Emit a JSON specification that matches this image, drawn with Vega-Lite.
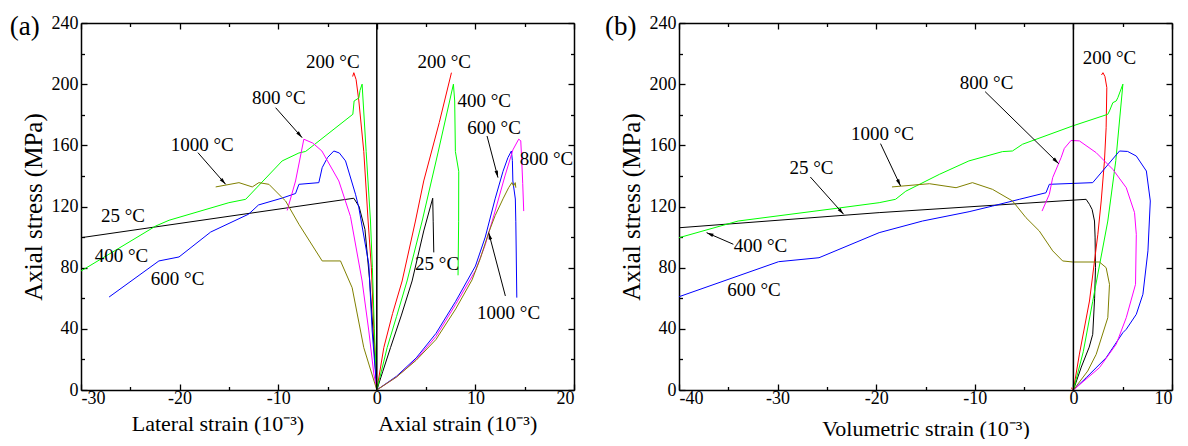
{
  "$schema": "https://vega.github.io/schema/vega-lite/v6.json",
  "background": "white",
  "padding": {"left": 9, "top": 12, "right": 5, "bottom": 0},
  "config": {
    "view": {"stroke": null},
    "font": "Liberation Serif",
    "text": {"font": "Liberation Serif"},
    "axis": {"grid": false, "domainColor": "black", "domainWidth": 1.5, "tickColor": "black", "tickWidth": 1.3, "labelFont": "Liberation Serif", "labelFontSize": 18, "labelColor": "black", "titleFont": "Liberation Serif", "titleColor": "black", "titleFontWeight": "normal"}
  },
  "datasets": {
    "a": [
      {"T":"25","p":"L","x":0,"y":0},{"T":"25","p":"L","x":-0.3,"y":30},{"T":"25","p":"L","x":-0.7,"y":70},{"T":"25","p":"L","x":-1.2,"y":105},{"T":"25","p":"L","x":-1.8,"y":120},{"T":"25","p":"L","x":-2.33,"y":125.4},{"T":"25","p":"L","x":-30,"y":99.6},
      {"T":"25","p":"A","x":0,"y":0},{"T":"25","p":"A","x":0.6,"y":12},{"T":"25","p":"A","x":1.39,"y":27.7},{"T":"25","p":"A","x":2.5,"y":49},{"T":"25","p":"A","x":3.58,"y":71.3},{"T":"25","p":"A","x":4.76,"y":104},{"T":"25","p":"A","x":5.67,"y":125.4},{"T":"25","p":"A","x":5.72,"y":110},{"T":"25","p":"A","x":5.78,"y":90},
      {"T":"200","p":"L","x":0,"y":0},{"T":"200","p":"L","x":-0.3,"y":40},{"T":"200","p":"L","x":-0.55,"y":80},{"T":"200","p":"L","x":-0.88,"y":110.5},{"T":"200","p":"L","x":-1.32,"y":156},{"T":"200","p":"L","x":-1.82,"y":189},{"T":"200","p":"L","x":-2.1,"y":203},{"T":"200","p":"L","x":-2.33,"y":207.5},{"T":"200","p":"L","x":-2.45,"y":205},
      {"T":"200","p":"A","x":0,"y":0},{"T":"200","p":"A","x":0.71,"y":27.7},{"T":"200","p":"A","x":1.6,"y":50},{"T":"200","p":"A","x":2.57,"y":71.3},{"T":"200","p":"A","x":3.92,"y":110.5},{"T":"200","p":"A","x":4.76,"y":136.7},{"T":"200","p":"A","x":6.34,"y":175},{"T":"200","p":"A","x":7.57,"y":207.5},
      {"T":"400","p":"L","x":0,"y":0},{"T":"400","p":"L","x":-0.25,"y":40},{"T":"400","p":"L","x":-0.45,"y":80},{"T":"400","p":"L","x":-0.64,"y":110.5},{"T":"400","p":"L","x":-1.08,"y":156},{"T":"400","p":"L","x":-1.49,"y":200},{"T":"400","p":"L","x":-1.7,"y":196},{"T":"400","p":"L","x":-1.82,"y":191},{"T":"400","p":"L","x":-2.3,"y":189},{"T":"400","p":"L","x":-2.43,"y":180.3},{"T":"400","p":"L","x":-7.22,"y":156},{"T":"400","p":"L","x":-7.9,"y":155},{"T":"400","p":"L","x":-9.6,"y":149.8},{"T":"400","p":"L","x":-13.3,"y":124.7},{"T":"400","p":"L","x":-15,"y":122.5},{"T":"400","p":"L","x":-21.07,"y":111},{"T":"400","p":"L","x":-22.4,"y":107.3},{"T":"400","p":"L","x":-30,"y":77.8},
      {"T":"400","p":"A","x":0,"y":0},{"T":"400","p":"A","x":1.05,"y":27.7},{"T":"400","p":"A","x":2,"y":48},{"T":"400","p":"A","x":3.07,"y":71.3},{"T":"400","p":"A","x":4.6,"y":110.5},{"T":"400","p":"A","x":6.2,"y":155},{"T":"400","p":"A","x":7.77,"y":200},{"T":"400","p":"A","x":7.9,"y":189},{"T":"400","p":"A","x":7.97,"y":156},{"T":"400","p":"A","x":8.31,"y":143},{"T":"400","p":"A","x":8.3,"y":110},{"T":"400","p":"A","x":8.24,"y":75},
      {"T":"600","p":"L","x":0,"y":0},{"T":"600","p":"L","x":-0.47,"y":38.6},{"T":"600","p":"L","x":-0.81,"y":82.2},{"T":"600","p":"L","x":-1.82,"y":119.2},{"T":"600","p":"L","x":-2.16,"y":128},{"T":"600","p":"L","x":-3.17,"y":149.8},{"T":"600","p":"L","x":-3.8,"y":155},{"T":"600","p":"L","x":-4.36,"y":156.3},{"T":"600","p":"L","x":-5.0,"y":152},{"T":"600","p":"L","x":-5.54,"y":145.4},{"T":"600","p":"L","x":-5.88,"y":135.6},{"T":"600","p":"L","x":-7.9,"y":134.5},{"T":"600","p":"L","x":-8.24,"y":128.5},{"T":"600","p":"L","x":-9.6,"y":125.5},{"T":"600","p":"L","x":-12,"y":121},{"T":"600","p":"L","x":-13,"y":115},{"T":"600","p":"L","x":-16.85,"y":103.3},{"T":"600","p":"L","x":-20.06,"y":87},{"T":"600","p":"L","x":-22.1,"y":84.4},{"T":"600","p":"L","x":-27.15,"y":60.8},
      {"T":"600","p":"A","x":0,"y":0},{"T":"600","p":"A","x":2,"y":9},{"T":"600","p":"A","x":4,"y":21},{"T":"600","p":"A","x":6,"y":37},{"T":"600","p":"A","x":8,"y":58},{"T":"600","p":"A","x":10,"y":81},{"T":"600","p":"A","x":11,"y":100},{"T":"600","p":"A","x":12,"y":125},{"T":"600","p":"A","x":12.8,"y":143},{"T":"600","p":"A","x":13.3,"y":152},{"T":"600","p":"A","x":13.65,"y":156.3},{"T":"600","p":"A","x":13.75,"y":150},{"T":"600","p":"A","x":13.8,"y":136.7},{"T":"600","p":"A","x":14.05,"y":124.9},{"T":"600","p":"A","x":14.1,"y":110},{"T":"600","p":"A","x":14.2,"y":60.4},
      {"T":"800","p":"L","x":0,"y":0},{"T":"800","p":"L","x":-0.3,"y":10.5},{"T":"800","p":"L","x":-0.81,"y":38.6},{"T":"800","p":"L","x":-1.49,"y":71.3},{"T":"800","p":"L","x":-2.67,"y":113.5},{"T":"800","p":"L","x":-3.85,"y":136.7},{"T":"800","p":"L","x":-5.57,"y":156.3},{"T":"800","p":"L","x":-6.5,"y":161.5},{"T":"800","p":"L","x":-7.4,"y":164},{"T":"800","p":"L","x":-8.24,"y":136.7},{"T":"800","p":"L","x":-9.09,"y":117.4},
      {"T":"800","p":"A","x":0,"y":0},{"T":"800","p":"A","x":2,"y":8.5},{"T":"800","p":"A","x":4,"y":20},{"T":"800","p":"A","x":6,"y":35},{"T":"800","p":"A","x":8,"y":56},{"T":"800","p":"A","x":10,"y":78},{"T":"800","p":"A","x":11,"y":95},{"T":"800","p":"A","x":12,"y":117},{"T":"800","p":"A","x":13,"y":140},{"T":"800","p":"A","x":13.8,"y":157},{"T":"800","p":"A","x":14.39,"y":164},{"T":"800","p":"A","x":14.6,"y":163},{"T":"800","p":"A","x":14.7,"y":150},{"T":"800","p":"A","x":14.8,"y":135},{"T":"800","p":"A","x":14.9,"y":117},
      {"T":"1000","p":"L","x":0,"y":0},{"T":"1000","p":"L","x":-1.32,"y":27.7},{"T":"1000","p":"L","x":-2.5,"y":66.9},{"T":"1000","p":"L","x":-3.68,"y":84.4},{"T":"1000","p":"L","x":-5.54,"y":84.4},{"T":"1000","p":"L","x":-7.9,"y":108.4},{"T":"1000","p":"L","x":-9.25,"y":123.6},{"T":"1000","p":"L","x":-9.6,"y":125.8},{"T":"1000","p":"L","x":-10.94,"y":134.5},{"T":"1000","p":"L","x":-11.96,"y":135.6},{"T":"1000","p":"L","x":-12.63,"y":132.8},{"T":"1000","p":"L","x":-13.98,"y":135.6},{"T":"1000","p":"L","x":-16.34,"y":132.8},
      {"T":"1000","p":"A","x":0,"y":0},{"T":"1000","p":"A","x":2,"y":8.5},{"T":"1000","p":"A","x":4,"y":19.5},{"T":"1000","p":"A","x":6,"y":33},{"T":"1000","p":"A","x":8,"y":53},{"T":"1000","p":"A","x":9.66,"y":72},{"T":"1000","p":"A","x":10.5,"y":86},{"T":"1000","p":"A","x":11.35,"y":103},{"T":"1000","p":"A","x":12,"y":114},{"T":"1000","p":"A","x":12.8,"y":125},{"T":"1000","p":"A","x":13.37,"y":132.3},{"T":"1000","p":"A","x":13.7,"y":135.6},{"T":"1000","p":"A","x":13.87,"y":133.4},{"T":"1000","p":"A","x":14.04,"y":135.6},{"T":"1000","p":"A","x":14.1,"y":132.3}
    ],
    "b": [
      {"T":"25","x":0,"y":0},{"T":"25","x":0.8,"y":15},{"T":"25","x":1.6,"y":28},{"T":"25","x":1.96,"y":36.4},{"T":"25","x":2.15,"y":60},{"T":"25","x":2.24,"y":80},{"T":"25","x":2.2,"y":100},{"T":"25","x":2.14,"y":110.5},{"T":"25","x":1.9,"y":118},{"T":"25","x":1.63,"y":121.4},{"T":"25","x":1.29,"y":124.7},{"T":"25","x":-19.7,"y":116},{"T":"25","x":-40,"y":106.1},
      {"T":"200","x":-0.24,"y":1.5},{"T":"200","x":0,"y":0},{"T":"200","x":0.61,"y":23.5},{"T":"200","x":1.63,"y":58.2},{"T":"200","x":2.48,"y":101.8},{"T":"200","x":2.82,"y":123.6},{"T":"200","x":3.15,"y":149.8},{"T":"200","x":3.32,"y":171.5},{"T":"200","x":3.39,"y":197.7},{"T":"200","x":3.2,"y":205},{"T":"200","x":3.0,"y":207.5},{"T":"200","x":2.85,"y":206},
      {"T":"400","x":0,"y":0},{"T":"400","x":1,"y":25},{"T":"400","x":1.96,"y":58},{"T":"400","x":3.49,"y":110.5},{"T":"400","x":4.3,"y":150},{"T":"400","x":5.02,"y":200},{"T":"400","x":4.51,"y":191.2},{"T":"400","x":4.34,"y":189},{"T":"400","x":4,"y":187.9},{"T":"400","x":3.66,"y":182.5},{"T":"400","x":3.49,"y":180.3},{"T":"400","x":-0.07,"y":172.7},{"T":"400","x":-5.16,"y":160.7},{"T":"400","x":-6.18,"y":156.3},{"T":"400","x":-7.19,"y":155.9},{"T":"400","x":-10.6,"y":149.8},{"T":"400","x":-13.6,"y":141},{"T":"400","x":-17,"y":130},{"T":"400","x":-18.04,"y":124.7},{"T":"400","x":-19.7,"y":122.5},{"T":"400","x":-23.8,"y":119},{"T":"400","x":-34,"y":110.5},{"T":"400","x":-40,"y":99.6},
      {"T":"600","x":0,"y":0},{"T":"600","x":1.29,"y":8},{"T":"600","x":3.32,"y":21.1},{"T":"600","x":5.02,"y":37.5},{"T":"600","x":5.36,"y":39.7},{"T":"600","x":6.38,"y":49.5},{"T":"600","x":7.05,"y":62.6},{"T":"600","x":7.56,"y":91},{"T":"600","x":7.8,"y":123.6},{"T":"600","x":7.4,"y":143.2},{"T":"600","x":6.38,"y":153},{"T":"600","x":5.5,"y":156},{"T":"600","x":4.68,"y":156.3},{"T":"600","x":1.96,"y":135.6},{"T":"600","x":-2.44,"y":134.5},{"T":"600","x":-2.78,"y":129},{"T":"600","x":-5.49,"y":124.7},{"T":"600","x":-8.2,"y":120.3},{"T":"600","x":-10.58,"y":116.6},{"T":"600","x":-15.3,"y":110.5},{"T":"600","x":-19.7,"y":102.9},{"T":"600","x":-25.8,"y":86.5},{"T":"600","x":-29.9,"y":83.9},{"T":"600","x":-40,"y":61},
      {"T":"800","x":0,"y":0},{"T":"800","x":2.64,"y":14.6},{"T":"800","x":4.34,"y":29.9},{"T":"800","x":5.36,"y":47.3},{"T":"800","x":6.3,"y":69.1},{"T":"800","x":6.38,"y":101.8},{"T":"800","x":6.2,"y":116},{"T":"800","x":5.36,"y":132.3},{"T":"800","x":4,"y":144.3},{"T":"800","x":2.31,"y":155.2},{"T":"800","x":0.61,"y":162.9},{"T":"800","x":-0.24,"y":163.2},{"T":"800","x":-0.92,"y":158},{"T":"800","x":-1.25,"y":151.9},{"T":"800","x":-2.1,"y":138.9},{"T":"800","x":-2.44,"y":128},{"T":"800","x":-3.18,"y":117},
      {"T":"1000","x":0,"y":0},{"T":"1000","x":1.45,"y":12.4},{"T":"1000","x":2.31,"y":23.3},{"T":"1000","x":3.49,"y":47.3},{"T":"1000","x":3.66,"y":69.1},{"T":"1000","x":3.32,"y":80},{"T":"1000","x":2.64,"y":83.7},{"T":"1000","x":-0.07,"y":83.7},{"T":"1000","x":-1.09,"y":84.4},{"T":"1000","x":-2.1,"y":91},{"T":"1000","x":-3.46,"y":104},{"T":"1000","x":-4.81,"y":112.7},{"T":"1000","x":-6.17,"y":123.6},{"T":"1000","x":-8.2,"y":131.2},{"T":"1000","x":-10.24,"y":135.6},{"T":"1000","x":-11.9,"y":132.3},{"T":"1000","x":-14.6,"y":134.9},{"T":"1000","x":-18.4,"y":132.8}
    ],
    "labA": [
      {"t":"200 °C","x":-4.46,"y":214.5},{"t":"200 °C","x":6.84,"y":214.5},{"t":"400 °C","x":10.9,"y":189},{"t":"600 °C","x":11.9,"y":171.3},{"t":"800 °C","x":17.2,"y":151},{"t":"800 °C","x":-9.93,"y":191},{"t":"1000 °C","x":-17.7,"y":160.2},{"t":"25 °C","x":-25.75,"y":114},{"t":"400 °C","x":-25.9,"y":87.6},{"t":"600 °C","x":-20.2,"y":72.6},{"t":"25 °C","x":6.11,"y":82.4},{"t":"1000 °C","x":13.37,"y":50.4}
    ],
    "labB": [
      {"t":"200 °C","x":3.66,"y":216.8},{"t":"800 °C","x":-8.8,"y":200.5},{"t":"1000 °C","x":-19.36,"y":167.4},{"t":"25 °C","x":-26.57,"y":145.2},{"t":"400 °C","x":-31.74,"y":94.2},{"t":"600 °C","x":-32.4,"y":65.4}
    ],
    "arrA": [
      {"x":-10.26,"y":184.6,"x2":-7.57,"y2":165},{"x":-18.14,"y":155.2,"x2":-15.33,"y2":134.5},{"x":11.18,"y":166.1,"x2":12.29,"y2":138.9},{"x":13.04,"y":61.5,"x2":11.35,"y2":102.9}
    ],
    "arrB": [
      {"x":-8.95,"y":195.1,"x2":-1.49,"y2":148},{"x":-19.56,"y":161.1,"x2":-17.53,"y2":133.4},{"x":-26.68,"y":139.3,"x2":-23.3,"y2":114.9},{"x":-34.49,"y":95.3,"x2":-37.2,"y2":102.9}
    ],
    "titA": [
      {"t":"Lateral strain (10⁻³)","x":-16.11,"y":-26.8},{"t":"Axial strain (10⁻³)","x":8.21,"y":-26.8}
    ],
    "tagA": [{"t":"(a)","x":-35.7,"y":237.7}],
    "tagB": [{"t":"(b)","x":-45.9,"y":237.7}],
    "origin": [{"x":0,"y":0}]
  },
  "spacing": 105,
  "bounds": "flush",
  "hconcat": [
    {
      "width": 493, "height": 367,
      "resolve": {"axis": {"x": "independent", "y": "independent"}},
      "layer": [
        {
          "data": {"name": "a"},
          "mark": {"type": "line", "strokeWidth": 1, "clip": true},
          "encoding": {
            "x": {"field": "x", "type": "quantitative", "scale": {"domain": [-30, 20], "nice": false, "zero": false}, "axis": {"orient": "bottom", "values": [-30, -20, -10, 0, 10, 20], "labelExpr": "'' + datum.value", "title": null, "tickSize": -6, "labelPadding": 5}},
            "y": {"field": "y", "type": "quantitative", "scale": {"domain": [0, 240], "nice": false, "zero": false}, "axis": {"orient": "left", "values": [0, 40, 80, 120, 160, 200, 240], "title": "Axial stress (MPa)", "titleFontSize": 25, "titlePadding": 5, "tickSize": -6, "labelPadding": 9}},
            "color": {"field": "T", "type": "nominal", "scale": {"domain": ["25", "200", "400", "600", "800", "1000"], "range": ["#000000", "#ff0000", "#00ff00", "#0000ff", "#ff00ff", "#808000"]}, "legend": null},
            "detail": {"field": "p"},
            "order": {"value": null}
          }
        },
        {
          "data": {"name": "origin"},
          "mark": {"type": "point", "opacity": 0},
          "encoding": {
            "x": {"field": "x", "type": "quantitative", "axis": {"orient": "top", "values": [-30, -20, -10, 0, 10, 20], "labels": false, "title": null, "tickSize": -6}},
            "y": {"field": "y", "type": "quantitative", "axis": {"orient": "right", "values": [0, 40, 80, 120, 160, 200, 240], "labels": false, "title": null, "tickSize": -6}}
          }
        },
        {
          "data": {"name": "origin"},
          "mark": {"type": "point", "opacity": 0},
          "encoding": {
            "x": {"field": "x", "type": "quantitative", "axis": {"orient": "bottom", "values": [-25, -15, -5, 5, 15], "labels": false, "domain": false, "title": null, "tickSize": -3.5}},
            "y": {"field": "y", "type": "quantitative", "axis": {"orient": "left", "values": [20, 60, 100, 140, 180, 220], "labels": false, "domain": false, "title": null, "tickSize": -3.5}}
          }
        },
        {
          "data": {"name": "origin"},
          "mark": {"type": "point", "opacity": 0},
          "encoding": {
            "x": {"field": "x", "type": "quantitative", "axis": {"orient": "top", "values": [-25, -15, -5, 5, 15], "labels": false, "domain": false, "title": null, "tickSize": -3.5}},
            "y": {"field": "y", "type": "quantitative", "axis": {"orient": "right", "values": [20, 60, 100, 140, 180, 220], "labels": false, "domain": false, "title": null, "tickSize": -3.5}}
          }
        },
        {
          "data": {"name": "origin"},
          "mark": {"type": "rule", "color": "black", "strokeWidth": 1.5},
          "encoding": {"x": {"field": "x", "type": "quantitative", "axis": null}}
        },
        {
          "data": {"name": "labA"},
          "mark": {"type": "text", "fontSize": 19, "align": "center", "baseline": "middle", "color": "black"},
          "encoding": {"x": {"field": "x", "type": "quantitative", "axis": null}, "y": {"field": "y", "type": "quantitative", "axis": null}, "text": {"field": "t"}}
        },
        {
          "data": {"name": "arrA"},
          "mark": {"type": "rule", "color": "black", "strokeWidth": 1},
          "encoding": {"x": {"field": "x", "type": "quantitative", "axis": null}, "y": {"field": "y", "type": "quantitative", "axis": null}, "x2": {"field": "x2"}, "y2": {"field": "y2"}}
        },
        {
          "data": {"name": "arrA"},
          "transform": [{"calculate": "atan2((datum.x2 - datum.x) * 9.85, (datum.y2 - datum.y) * 1.529) * 180 / PI", "as": "ang"}],
          "mark": {"type": "point", "shape": "M0,0L-0.45,1.8L0.45,1.8Z", "filled": true, "color": "black", "opacity": 1, "size": 60},
          "encoding": {"x": {"field": "x2", "type": "quantitative", "axis": null}, "y": {"field": "y2", "type": "quantitative", "axis": null}, "angle": {"field": "ang", "type": "quantitative", "scale": null}}
        },
        {
          "data": {"name": "titA"},
          "mark": {"type": "text", "fontSize": 22, "align": "center", "baseline": "alphabetic", "color": "black"},
          "encoding": {"x": {"field": "x", "type": "quantitative", "axis": null}, "y": {"field": "y", "type": "quantitative", "axis": null}, "text": {"field": "t"}}
        },
        {
          "data": {"name": "tagA"},
          "mark": {"type": "text", "fontSize": 27, "align": "center", "baseline": "middle", "color": "black"},
          "encoding": {"x": {"field": "x", "type": "quantitative", "axis": null}, "y": {"field": "y", "type": "quantitative", "axis": null}, "text": {"field": "t"}}
        }
      ]
    },
    {
      "width": 493, "height": 367,
      "resolve": {"axis": {"x": "independent", "y": "independent"}},
      "layer": [
        {
          "data": {"name": "b"},
          "mark": {"type": "line", "strokeWidth": 1, "clip": true},
          "encoding": {
            "x": {"field": "x", "type": "quantitative", "scale": {"domain": [-40, 10], "nice": false, "zero": false}, "axis": {"orient": "bottom", "values": [-40, -30, -20, -10, 0, 10], "labelExpr": "'' + datum.value", "title": "Volumetric strain (10⁻³)", "titleFontSize": 22, "titlePadding": 11, "tickSize": -6, "labelPadding": 5}},
            "y": {"field": "y", "type": "quantitative", "scale": {"domain": [0, 240], "nice": false, "zero": false}, "axis": {"orient": "left", "values": [0, 40, 80, 120, 160, 200, 240], "title": "Axial stress (MPa)", "titleFontSize": 25, "titlePadding": 5, "tickSize": -6, "labelPadding": 9}},
            "color": {"field": "T", "type": "nominal", "scale": {"domain": ["25", "200", "400", "600", "800", "1000"], "range": ["#000000", "#ff0000", "#00ff00", "#0000ff", "#ff00ff", "#808000"]}, "legend": null},
            "order": {"value": null}
          }
        },
        {
          "data": {"name": "origin"},
          "mark": {"type": "point", "opacity": 0},
          "encoding": {
            "x": {"field": "x", "type": "quantitative", "axis": {"orient": "top", "values": [-40, -30, -20, -10, 0, 10], "labels": false, "title": null, "tickSize": -6}},
            "y": {"field": "y", "type": "quantitative", "axis": {"orient": "right", "values": [0, 40, 80, 120, 160, 200, 240], "labels": false, "title": null, "tickSize": -6}}
          }
        },
        {
          "data": {"name": "origin"},
          "mark": {"type": "point", "opacity": 0},
          "encoding": {
            "x": {"field": "x", "type": "quantitative", "axis": {"orient": "bottom", "values": [-35, -25, -15, -5, 5], "labels": false, "domain": false, "title": null, "tickSize": -3.5}},
            "y": {"field": "y", "type": "quantitative", "axis": {"orient": "left", "values": [20, 60, 100, 140, 180, 220], "labels": false, "domain": false, "title": null, "tickSize": -3.5}}
          }
        },
        {
          "data": {"name": "origin"},
          "mark": {"type": "point", "opacity": 0},
          "encoding": {
            "x": {"field": "x", "type": "quantitative", "axis": {"orient": "top", "values": [-35, -25, -15, -5, 5], "labels": false, "domain": false, "title": null, "tickSize": -3.5}},
            "y": {"field": "y", "type": "quantitative", "axis": {"orient": "right", "values": [20, 60, 100, 140, 180, 220], "labels": false, "domain": false, "title": null, "tickSize": -3.5}}
          }
        },
        {
          "data": {"name": "origin"},
          "mark": {"type": "rule", "color": "black", "strokeWidth": 1.5},
          "encoding": {"x": {"field": "x", "type": "quantitative", "axis": null}}
        },
        {
          "data": {"name": "labB"},
          "mark": {"type": "text", "fontSize": 19, "align": "center", "baseline": "middle", "color": "black"},
          "encoding": {"x": {"field": "x", "type": "quantitative", "axis": null}, "y": {"field": "y", "type": "quantitative", "axis": null}, "text": {"field": "t"}}
        },
        {
          "data": {"name": "arrB"},
          "mark": {"type": "rule", "color": "black", "strokeWidth": 1},
          "encoding": {"x": {"field": "x", "type": "quantitative", "axis": null}, "y": {"field": "y", "type": "quantitative", "axis": null}, "x2": {"field": "x2"}, "y2": {"field": "y2"}}
        },
        {
          "data": {"name": "arrB"},
          "transform": [{"calculate": "atan2((datum.x2 - datum.x) * 9.85, (datum.y2 - datum.y) * 1.529) * 180 / PI", "as": "ang"}],
          "mark": {"type": "point", "shape": "M0,0L-0.45,1.8L0.45,1.8Z", "filled": true, "color": "black", "opacity": 1, "size": 60},
          "encoding": {"x": {"field": "x2", "type": "quantitative", "axis": null}, "y": {"field": "y2", "type": "quantitative", "axis": null}, "angle": {"field": "ang", "type": "quantitative", "scale": null}}
        },
        {
          "data": {"name": "tagB"},
          "mark": {"type": "text", "fontSize": 27, "align": "center", "baseline": "middle", "color": "black"},
          "encoding": {"x": {"field": "x", "type": "quantitative", "axis": null}, "y": {"field": "y", "type": "quantitative", "axis": null}, "text": {"field": "t"}}
        }
      ]
    }
  ]
}
